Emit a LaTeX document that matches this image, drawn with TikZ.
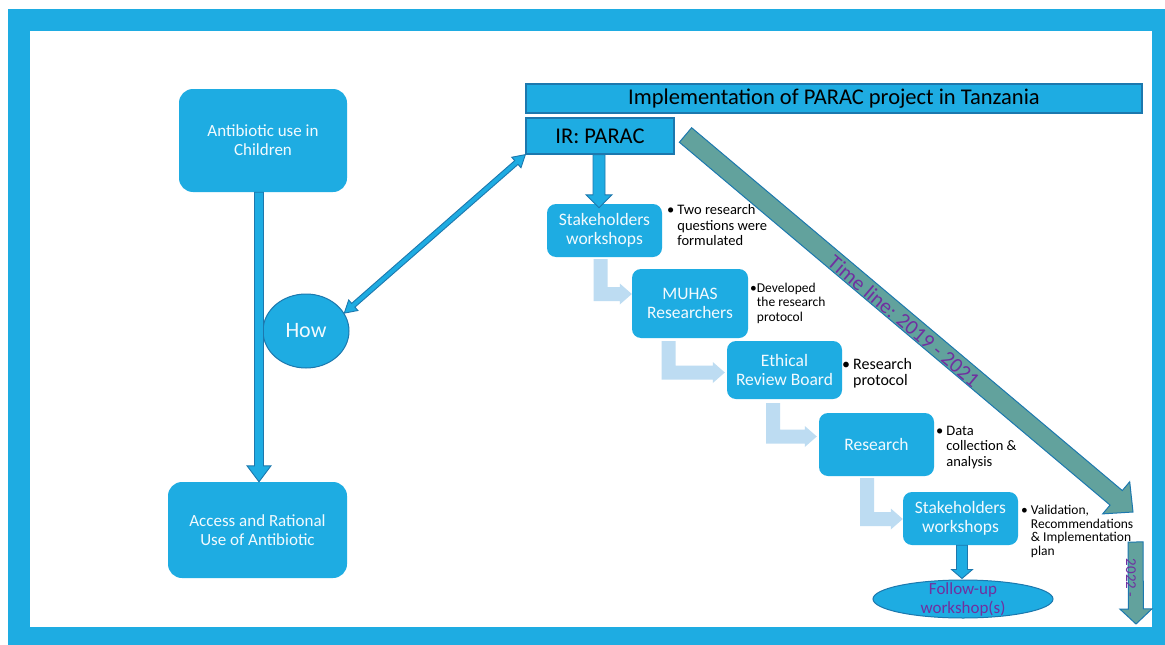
\documentclass[tikz,border=0pt]{standalone}
\usepackage{fontspec}
\setmainfont{Carlito}
\usepackage{tikz}
\usetikzlibrary{shapes,calc}

\definecolor{parblue}{HTML}{1EACE2}
\definecolor{paredge}{HTML}{1C78AE}
\definecolor{partime}{HTML}{62A29D}
\definecolor{parlight}{HTML}{BDDCF2}
\definecolor{parpurple}{HTML}{7030A0}
\definecolor{partext}{HTML}{F2FAFE}

% block arrow: style, from, to, half shaft, half head, head length
\newcommand\blockarrow[6]{%
\path ($(#3)!#6!(#2)$) coordinate (h);
\draw[#1] ($(#2)!#4!90:(#3)$) -- ($(h)!#4!90:(#3)$) -- ($(h)!#5!90:(#3)$) -- (#3)
  -- ($(h)!#5!-90:(#3)$) -- ($(h)!#4!-90:(#3)$) -- ($(#2)!#4!-90:(#3)$) -- cycle;}
\newcommand\twoheadarrow[6]{%
\path ($(#3)!#6!(#2)$) coordinate (h) ($(#2)!#6!(#3)$) coordinate (g);
\draw[#1] (#2) -- ($(g)!#5!90:(#3)$) -- ($(g)!#4!90:(#3)$) -- ($(h)!#4!90:(#3)$)
  -- ($(h)!#5!90:(#3)$) -- (#3) -- ($(h)!#5!-90:(#3)$) -- ($(h)!#4!-90:(#3)$)
  -- ($(g)!#4!-90:(#3)$) -- ($(g)!#5!-90:(#3)$) -- cycle;}
\newcommand\elbowarrow[2]{%
\fill[parlight] ($(#1)+(-7,0)$) |- ($(#2)+(-12,7)$) -- ++(0,3.5) -- (#2)
  -- ($(#2)+(-12,-10.5)$) -- ++(0,3.5) -| ($(#1)+(7,0)$) -- cycle;}

\begin{document}
\begin{tikzpicture}[x=1pt,y=-1pt,
  box/.style={fill=parblue,rounded corners=14pt,text=partext,align=center,inner sep=0pt,
    font=\fontsize{17}{19}\selectfont},
  stepbox/.style={fill=parblue,rounded corners=9pt,text=partext,align=center,inner sep=0pt,
    minimum width=115pt,font=\fontsize{17.5}{18.5}\selectfont},
  bar/.style={fill=parblue,draw=paredge,line width=1.2pt,inner sep=0pt,font=\fontsize{22.5}{24}\selectfont},
  note/.style={anchor=base west,inner sep=0pt,align=left},
  bluearrow/.style={fill=parblue,draw=paredge,line width=0.9pt},
  timearrow/.style={fill=partime,draw=paredge,line width=1pt}]
\useasboundingbox (0,0) rectangle (1165,645);
\fill[white] (0,0) rectangle (1165,645);
\fill[parblue] (8,9) rectangle (1165,645);
\fill[white] (30,31) rectangle (1152,627);

\node[box,minimum width=168pt,minimum height=103pt] (ant) at (263,140.5) {Antibiotic use in\\Children\hspace*{0pt}};
\node[box,minimum width=179pt,minimum height=96pt] (acc) at (257.5,530) {Access and Rational\\Use of Antibiotic};
\node[ellipse,fill=parblue,draw=paredge,line width=1pt,minimum width=86pt,minimum height=74pt,
  inner sep=0pt,text=partext,font=\fontsize{22}{24}\selectfont] (how) at (306,331) {How};

\node[bar,minimum width=616pt,minimum height=29pt] (hdr) at (834,98.5) {Implementation of PARAC project in Tanzania};
\node[bar,minimum width=148pt,minimum height=36pt] (ir) at (600,136) {IR: PARAC};

\node[stepbox,minimum height=53pt] (sw1) at (604.5,230.5) {Stakeholders\\workshops};
\node[stepbox,minimum width=116pt,minimum height=69pt] (mu) at (690,303.5) {MUHAS\\Researchers};
\node[stepbox,minimum height=58pt] (erb) at (784.5,370) {Ethical\\Review Board};
\node[stepbox,minimum height=63pt] (res) at (876.5,444.5) {Research};
\node[stepbox,minimum height=53pt] (sw2) at (960.5,518.5) {Stakeholders\\workshops};
\node[ellipse,fill=parblue,draw=paredge,line width=1pt,minimum width=180pt,minimum height=38pt,inner sep=0pt] (fu) at (963,599) {};
\node[text=parpurple,align=center,font=\fontsize{17}{19}\selectfont] (futxt) at (fu) {Follow-up\\workshop(s)};

\node[note,font=\fontsize{14.5}{15.5}\selectfont] (n1) at (667,214.5) {\textbullet\hspace{3pt}\begin{tabular}[t]{@{}l@{}}Two research\\questions were\\formulated\end{tabular}};
\node[note,font=\fontsize{13.5}{14.5}\selectfont] (n2) at (750,292) {\textbullet\begin{tabular}[t]{@{}l@{}}Developed\\the research\\protocol\end{tabular}};
\node[note,font=\fontsize{16}{16}\selectfont] (n3) at (842,369) {\textbullet\hspace{3pt}\begin{tabular}[t]{@{}l@{}}Research\\protocol\end{tabular}};
\node[note,font=\fontsize{14.5}{15.5}\selectfont] (n4) at (936,435) {\textbullet\hspace{3pt}\begin{tabular}[t]{@{}l@{}}Data\\collection \&\\analysis\end{tabular}};
\node[note,font=\fontsize{13.5}{13.7}\selectfont] (n5) at (1021,514.5) {\textbullet\hspace{3pt}\begin{tabular}[t]{@{}l@{}}Validation,\\Recommendations\\\& Implementation\\plan\end{tabular}};

\coordinate (a1) at (ant.south -| 259,0);
\coordinate (a2) at (acc.north -| 259,0);
\blockarrow{bluearrow}{a1}{a2}{4.5pt}{12pt}{16pt}
\coordinate (i1) at (ir.south -| 599,0);
\coordinate (i2) at ($(sw1.north -| 599,0)+(0,4)$);
\blockarrow{bluearrow}{i1}{i2}{6pt}{13pt}{13pt}
\coordinate (s1) at (sw2.south -| 962,0);
\coordinate (s2) at ($(fu.north -| 962,0)+(0,-1)$);
\blockarrow{bluearrow}{s1}{s2}{5.5pt}{10.5pt}{9pt}
\twoheadarrow{bluearrow}{how.25}{ir.south west}{2.5pt}{7pt}{12pt}

\coordinate (e1s) at ($(sw1.south)+(-4,2)$);
\coordinate (e1t) at ($(mu.west)+(0,-9.5)$);
\elbowarrow{e1s}{e1t}
\coordinate (e2s) at ($(mu.south)+(-21.5,3)$);
\coordinate (e2t) at ($(erb.west)+(-2,2.5)$);
\elbowarrow{e2s}{e2t}
\coordinate (e3s) at ($(erb.south)+(-11.5,4)$);
\coordinate (e3t) at ($(res.west)+(-2,-8)$);
\elbowarrow{e3s}{e3t}
\coordinate (e4s) at ($(res.south)+(-9.5,2)$);
\coordinate (e4t) at ($(sw2.west)+(0,0.5)$);
\elbowarrow{e4s}{e4t}

\coordinate (t1) at (685.5,135);
\coordinate (t2) at (1133,512);
\blockarrow{timearrow}{t1}{t2}{9.5pt}{21pt}{22pt}
\node[rotate=-40.3,text=parpurple,font=\fontsize{21}{22}\selectfont] (tl) at (904,321) {Time line: 2019 - 2021};
\coordinate (y1) at (1135.5,542);
\coordinate (y2) at (1136,624);
\blockarrow{timearrow}{y1}{y2}{7.5pt}{16pt}{15pt}
\node[rotate=-90,text=parpurple,font=\fontsize{15}{17}\selectfont] (yr) at (1131,578) {2022 -};
\end{tikzpicture}
\end{document}
